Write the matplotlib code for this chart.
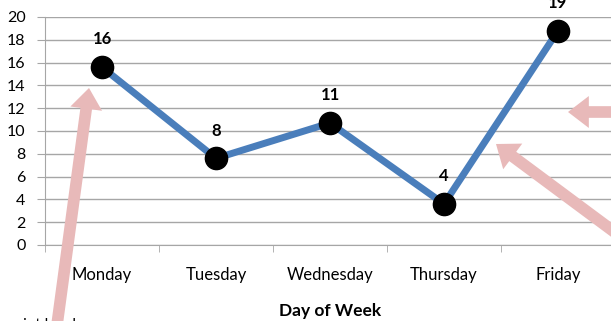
import matplotlib
matplotlib.use("Agg")
import matplotlib.pyplot as plt

# values; labels show the rounded numbers
days = ["Monday", "Tuesday", "Wednesday", "Thursday", "Friday"]
values = [15.6, 7.6, 10.7, 3.6, 18.8]
value_labels = ["16", "8", "11", "4", "19"]
y_ticks = list(range(0, 21, 2))

LINE = "#4a7ebb"
GRID = "#a6a6a6"
PINK = "#e8b9b9"

plt.rcParams['font.family'] = ['Lato', 'DejaVu Sans']

fig = plt.figure(figsize=(6.11, 3.21), dpi=100)
ax = fig.add_axes([45/611, 76/321, 570/611, 228/321])

x = list(range(len(days)))
ax.plot(x, values, color=LINE, lw=5, marker='o', ms=16, mfc='black', mec='black',
        zorder=3, solid_capstyle='round')
for xi, v, lab in zip(x, values, value_labels):
    ax.annotate(lab, (xi, v), xytext=(0, 20), textcoords='offset points', ha='center',
                va='center', fontsize=12, fontweight='bold', color='black',
                annotation_clip=False, zorder=4)

ax.set_xlim(-0.5, 4.5)
ax.set_ylim(0, 20)
ax.set_yticks(y_ticks)
ax.set_xticks(x)
ax.set_xticklabels(days)
ax.set_xticks([i - 0.5 for i in range(len(days) + 1)], minor=True)
ax.tick_params(axis='x', which='major', length=0, pad=16, labelsize=12)
ax.tick_params(axis='x', which='minor', length=5, color=GRID, direction='out')
ax.tick_params(axis='y', length=6, color=GRID, pad=8, labelsize=11.5)
ax.yaxis.grid(True, color=GRID, lw=1)
ax.set_axisbelow(True)
for s in ['top', 'right']:
    ax.spines[s].set_visible(False)
for s in ['left', 'bottom']:
    ax.spines[s].set_color(GRID)
ax.set_xlabel("Day of Week", fontsize=12.5, fontweight='bold', labelpad=14)

# pink callout arrows (figure pixel coords, origin bottom-left)
style = 'simple,head_length=0.75,head_width=1.15,tail_width=0.42'
for tail, tip in [((57, -4), (89, 233)), ((640, 209), (568, 209)), ((640, 70), (496, 177))]:
    fig.add_artist(matplotlib.patches.FancyArrowPatch(
        tail, tip, arrowstyle=style, mutation_scale=20, fc=PINK, ec='none',
        shrinkA=0, shrinkB=0, transform=None, zorder=5))

fig.text(0.01, -0.035, "point label", fontsize=11, ha='left', va='bottom')

fig.savefig("out.png", dpi=100)
